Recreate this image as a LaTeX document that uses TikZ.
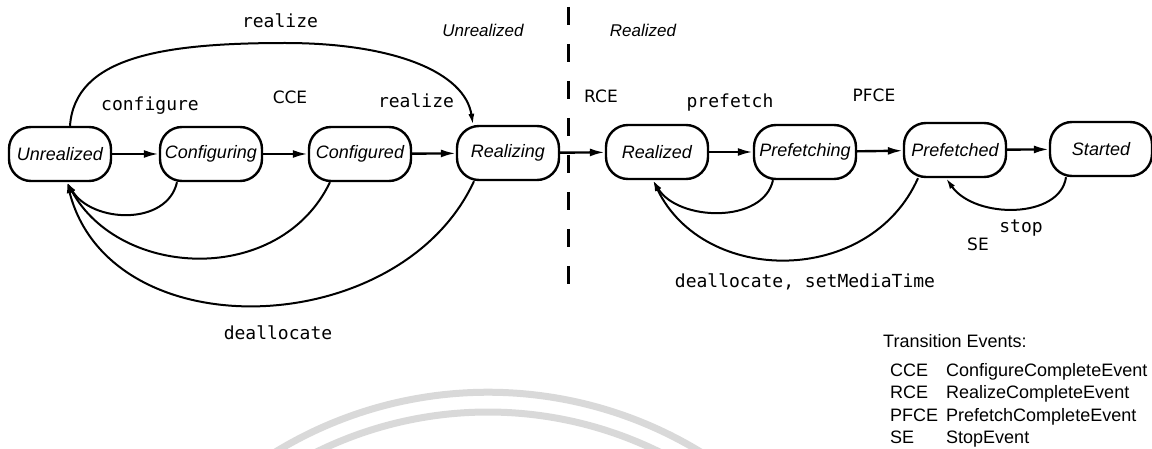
\documentclass[tikz,border=0pt]{standalone}
\usepackage{fontspec}
\setmainfont{Liberation Sans}
\newfontfamily\monofont{DejaVu Sans Mono}
\newfontfamily\evfont{DejaVu Sans}
\usetikzlibrary{arrows.meta}

\begin{document}
\begin{tikzpicture}[x=1pt,y=-1pt,
  stbox/.style={draw, line width=2.4pt, rounded corners=22pt, minimum width=102pt,
    minimum height=54pt, inner sep=0pt, font=\fontsize{18}{20}\selectfont\itshape},
  flow/.style={line width=2.4pt, -{Latex[length=15pt,width=8pt]}},
  back/.style={line width=2pt, -{Latex[length=11pt,width=6pt]}},
  act/.style={font=\monofont\fontsize{18}{20}\selectfont, anchor=base, inner sep=0pt},
  ev/.style={font=\evfont\fontsize{17}{20}\selectfont, anchor=base, inner sep=0pt},
  region/.style={font=\fontsize{17}{20}\selectfont\itshape, anchor=base, inner sep=0pt},
  legend/.style={font=\fontsize{18}{20}\selectfont, anchor=base west, inner sep=0pt},
  watermark/.style={draw=black!15, line width=7pt}
]
\useasboundingbox (0,0) rectangle (1152,449);

% faint background arcs
\begin{scope}
  \clip (0,0) rectangle (1152,449);
  \draw[watermark] (254,466) arc[start angle=125,end angle=55,radius=408pt];
  \draw[watermark] (294,464) arc[start angle=120,end angle=60,radius=388pt];
\end{scope}

% boundary between unrealized and realized states
\draw[line width=3pt, dash pattern=on 18pt off 19pt] (568,7) -- (568,290);
\node[region] (lblU) at (483,37) {Unrealized};
\node[region] (lblR) at (643,37) {Realized};

% states
\node[stbox] (U)  at (60,154)   {Unrealized};
\node[stbox] (Cg) at (211,154)  {Configuring};
\node[stbox] (Cd) at (360,154)  {Configured};
\node[stbox] (Rz) at (508,153)  {Realizing};
\node[stbox] (Rd) at (657,152)  {Realized};
\node[stbox] (Pf) at (805,152)  {Prefetching};
\node[stbox] (Pd) at (955,150)  {Prefetched};
\node[stbox] (St) at (1101,149) {Started};

% forward transitions
\draw[flow] (U) -- (Cg);
\draw[flow] (Cg) -- (Cd);
\draw[flow] (Cd) -- (Rz);
\draw[flow] (Rz) -- (Rd);
\draw[flow] (Rd) -- (Pf);
\draw[flow] (Pf) -- (Pd);
\draw[flow] (Pd) -- (St);

% realize shortcut over the top
\coordinate (apex) at (285,43);
\draw[back] ([xshift=10pt]U.north) .. controls +(5,-68) and +(-125,0) .. (apex)
  .. controls +(110,0) and +(-8,-52) .. ([xshift=-35pt]Rz.north);

% deallocate loops back to Unrealized
\draw[back] ([xshift=-34pt]Cg.south) .. controls +(-10,44) and +(25,41) .. ([xshift=7pt]U.south);
\draw[back] ([xshift=-30pt]Cd.south) .. controls +(-50,104) and +(53,97) .. ([xshift=7pt]U.south);
\draw[back] ([xshift=-34pt]Rz.south) .. controls +(-74,160) and +(43,169) .. ([xshift=7pt]U.south);

% loops back to Realized and Prefetched
\draw[back] ([xshift=-32pt]Pf.south) .. controls +(-10,44) and +(25,41) .. ([xshift=-4pt]Rd.south);
\draw[back] ([xshift=-37pt]Pd.south) .. controls +(-48,108) and +(51,106) .. ([xshift=-4pt]Rd.south);
\draw[back] ([xshift=-35pt]St.south) .. controls +(-6,42) and +(29,41) .. ([xshift=-9pt]Pd.south);

% transition labels
\node[act] (aRealize1) at (280,28)  {realize};
\node[act] (aConfig)   at (150,111) {configure};
\node[ev]  (eCCE)      at (290,104) {CCE};
\node[act] (aRealize2) at (416,108) {realize};
\node[ev]  (eRCE)      at (601,103) {RCE};
\node[act] (aPrefetch) at (730,108) {prefetch};
\node[ev]  (ePFCE)     at (874,102) {PFCE};
\node[act] (aStop)     at (1021,233) {stop};
\node[ev]  (eSE)       at (978,251) {SE};
\node[act] (aDealloc1) at (278,339) {deallocate};
\node[act] (aDealloc2) at (805,288) {deallocate, setMediaTime};

% legend
\node[legend] (lgTitle) at (883,348) {Transition Events:};
\node[legend] (lg1a) at (890,376) {CCE};
\node[legend] (lg1b) at (946,376) {ConfigureCompleteEvent};
\node[legend] (lg2a) at (890,398) {RCE};
\node[legend] (lg2b) at (946,398) {RealizeCompleteEvent};
\node[legend] (lg3a) at (890,421) {PFCE};
\node[legend] (lg3b) at (946,421) {PrefetchCompleteEvent};
\node[legend] (lg4a) at (890,443) {SE};
\node[legend] (lg4b) at (946,443) {StopEvent};
\end{tikzpicture}
\end{document}
